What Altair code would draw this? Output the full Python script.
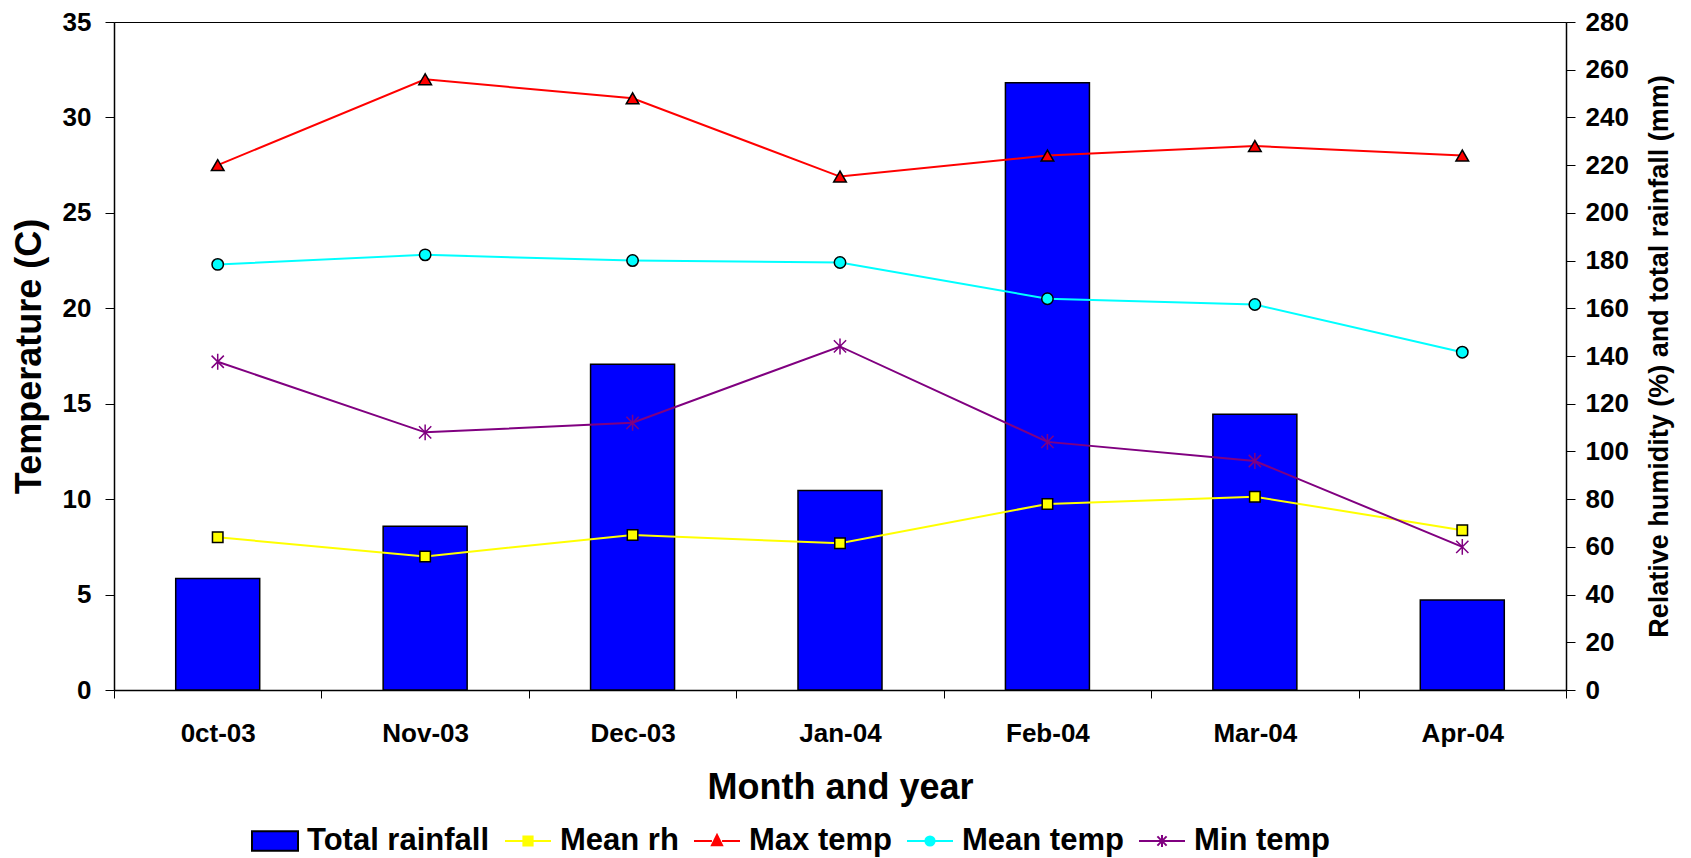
import altair as alt
import pandas as pd

# ---- data ----
months = ["0ct-03", "Nov-03", "Dec-03", "Jan-04", "Feb-04", "Mar-04", "Apr-04"]
total_rainfall = [46.7, 68.6, 136.5, 83.6, 254.5, 115.6, 37.7]   # mm (right axis)
mean_rh = [64, 56, 65, 61.5, 78, 81, 67]                           # % (right axis)
max_temp = [27.5, 32.0, 31.0, 26.9, 28.0, 28.5, 28.0]              # C (left axis)
mean_temp = [22.3, 22.8, 22.5, 22.4, 20.5, 20.2, 17.7]             # C (left axis)
min_temp = [17.2, 13.5, 14.0, 18.0, 13.0, 12.0, 7.5]               # C (left axis)

series_names = ["Total rainfall", "Mean rh", "Max temp", "Mean temp", "Min temp"]
fill_colors = ["#0000FF", "#FFFF00", "#FF0000", "#00FFFF", "#800080"]
stroke_colors = ["#000000", "#FFFF00", "#FF0000", "#00FFFF", "#800080"]

# legend symbols (line segment + marker), unit square [-1, 1]
legend_shapes = [
    "M-1,-0.42H1V0.42H-1Z",
    "M-1,0H-0.2M0.2,0H1M-0.2,-0.2H0.2V0.2H-0.2Z",
    "M-1,0H-0.22M0.22,0H1M0,-0.26L0.22,0.18H-0.22Z",
    "M-1,0H-0.2M0.2,0H1M-0.2,0A0.2,0.2 0 1,0 0.2,0A0.2,0.2 0 1,0 -0.2,0Z",
    "M-1,0H1M-0.2,-0.2L0.2,0.2M-0.2,0.2L0.2,-0.2M0,-0.26V0.26",
]
asterisk = "M-1,-1L1,1M-1,1L1,-1M0,-1.3V1.3"

series_data = {
    "Total rainfall": total_rainfall,
    "Mean rh": mean_rh,
    "Max temp": max_temp,
    "Mean temp": mean_temp,
    "Min temp": min_temp,
}
df = pd.DataFrame(
    [{"month": m, "series": s, "value": v}
     for s, vals in series_data.items() for m, v in zip(months, vals)]
)

FONT = "Liberation Sans"
PLOT_W, PLOT_H = 1452, 668

x_enc = alt.X(
    "month:N",
    sort=months,
    scale=alt.Scale(domain=months, paddingInner=0, paddingOuter=0),
    axis=alt.Axis(
        title="Month and year",
        labelAngle=0,
        tickBand="extent",
        tickSize=8,
        labelPadding=22,
        labelFontSize=26,
        titleFontSize=36,
        titleX=PLOT_W / 2,
        titleY=97,
        titleBaseline="middle",
        titleAlign="center",
    ),
)

fill_scale = alt.Scale(domain=series_names, range=fill_colors)
stroke_scale = alt.Scale(domain=series_names, range=stroke_colors)
shape_scale = alt.Scale(domain=series_names, range=legend_shapes)

y_left = alt.Y(
    "value:Q",
    scale=alt.Scale(domain=[0, 35], nice=False),
    axis=alt.Axis(
        orient="left",
        values=list(range(0, 36, 5)),
        title="Temperature (C)",
        tickSize=9,
        labelPadding=14,
        labelFontSize=26,
        titleFontSize=36,
        titleX=-85,
        titleY=PLOT_H / 2,
        titleAngle=270,
        titleBaseline="middle",
        titleAlign="center",
    ),
)
y_right = alt.Y(
    "value:Q",
    scale=alt.Scale(domain=[0, 280], nice=False),
    axis=alt.Axis(
        orient="right",
        values=list(range(0, 281, 20)),
        title="Relative humidity (%) and total rainfall (mm)",
        tickSize=9,
        labelPadding=10,
        labelFontSize=26,
        titleFontSize=27,
        titleX=93,
        titleY=PLOT_H / 2,
        titleAngle=270,
        titleBaseline="middle",
        titleAlign="center",
    ),
)

legend_def = alt.Legend(
    title=None,
    orient="none",
    legendX=137,
    legendY=795,
    direction="horizontal",
    columns=5,
    symbolSize=2116,
    symbolStrokeWidth=2,
    symbolOpacity=1,
    labelFont=FONT,
    labelFontSize=31,
    labelFontWeight="bold",
    labelColor="black",
    labelLimit=500,
    labelOffset=8,
    columnPadding=11,
    padding=0,
)

base = alt.Chart(df)

# invisible layer that defines the combined legend (drawn first)
legend_layer = base.mark_point(filled=True, opacity=0).encode(
    x=x_enc, y=y_right,
    fill=alt.Fill("series:N", scale=fill_scale, legend=legend_def),
    stroke=alt.Stroke("series:N", scale=stroke_scale, legend=legend_def),
    shape=alt.Shape("series:N", scale=shape_scale, legend=legend_def),
)

# ---- right-axis group: rainfall bars and mean rh ----
bars = base.transform_filter(alt.datum.series == "Total rainfall").mark_bar(
    width=alt.RelativeBandSize(0.405), stroke="black", strokeWidth=1.5
).encode(
    x=x_enc, y=y_right,
    fill=alt.Fill("series:N", scale=fill_scale, legend=None),
)
rh_line = base.transform_filter(alt.datum.series == "Mean rh").mark_line(strokeWidth=2).encode(
    x=x_enc, y=y_right,
    stroke=alt.Stroke("series:N", scale=stroke_scale, legend=None),
)
rh_pts = base.transform_filter(alt.datum.series == "Mean rh").mark_point(
    shape="square", size=110, filled=True, stroke="black", strokeWidth=1.5, opacity=1
).encode(
    x=x_enc, y=y_right,
    fill=alt.Fill("series:N", scale=fill_scale, legend=None),
)
right_group = alt.layer(legend_layer, bars, rh_line, rh_pts)

# ---- left-axis group: temperatures ----
temps = ["Max temp", "Mean temp", "Min temp"]
t_base = base.transform_filter(alt.FieldOneOfPredicate(field="series", oneOf=temps))
t_lines = t_base.mark_line(strokeWidth=2).encode(
    x=x_enc, y=y_left,
    stroke=alt.Stroke("series:N", scale=stroke_scale, legend=None),
)
max_pts = base.transform_filter(alt.datum.series == "Max temp").mark_point(
    shape="triangle-up", size=160, filled=True, stroke="black", strokeWidth=1.5, opacity=1
).encode(x=x_enc, y=y_left, fill=alt.Fill("series:N", scale=fill_scale, legend=None))
mean_pts = base.transform_filter(alt.datum.series == "Mean temp").mark_point(
    shape="circle", size=130, filled=True, stroke="black", strokeWidth=1.5, opacity=1
).encode(x=x_enc, y=y_left, fill=alt.Fill("series:N", scale=fill_scale, legend=None))
min_pts = base.transform_filter(alt.datum.series == "Min temp").mark_point(
    shape=asterisk, size=150, filled=False, stroke="#800080", strokeWidth=1.5, opacity=1
).encode(x=x_enc, y=y_left)

left_group = alt.layer(t_lines, max_pts, mean_pts, min_pts)

chart = (
    alt.layer(right_group, left_group)
    .resolve_scale(y="independent")
    .properties(
        width=PLOT_W,
        height=PLOT_H,
        autosize=alt.AutoSizeParams(type="none"),
        padding={"left": 106, "top": 14, "right": 117, "bottom": 172},
    )
    .configure(font=FONT)
    .configure_view(stroke="black", strokeWidth=1)
    .configure_axis(
        grid=False,
        domainColor="black",
        domainWidth=1.5,
        tickColor="black",
        tickWidth=1,
        labelColor="black",
        labelFont=FONT,
        labelFontWeight="bold",
        titleColor="black",
        titleFont=FONT,
        titleFontWeight="bold",
    )
    .configure_legend(
        symbolFillColor="white",
        symbolStrokeColor="black",
        symbolOpacity=1,
    )
)

chart.save("out.html", embed_options={"renderer": "svg", "actions": False})
